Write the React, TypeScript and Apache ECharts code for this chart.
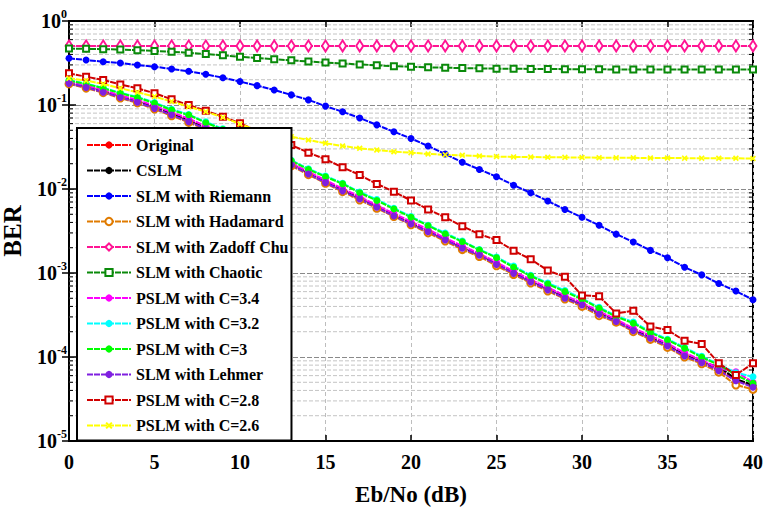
import React, { useEffect, useRef } from "react";
import * as echarts from "echarts";

const ebNo = [0,1,2,3,4,5,6,7,8,9,10,11,12,13,14,15,16,17,18,19,20,21,22,23,24,25,26,27,28,29,30,31,32,33,34,35,36,37,38,39,40];

const original = [0.185,0.166,0.146,0.127,0.111,0.094,0.079,0.066,0.054,0.044,0.0355,0.029,0.0238,0.0198,0.0156,0.0123,0.0098,0.0078,0.0062,0.0049,0.0039,0.00315,0.00252,0.002,0.00164,0.00128,0.001,0.0008,0.00064,0.00051,0.00042,0.00033,0.00027,0.00021,0.00017,0.000137,0.000106,0.000087,0.00007,0.000054,0.000045];
const cslm = [0.183,0.164,0.144,0.125,0.11,0.093,0.078,0.065,0.053,0.043,0.035,0.0285,0.0235,0.0195,0.0154,0.0121,0.0097,0.0077,0.0061,0.0048,0.0039,0.0031,0.0025,0.00198,0.00162,0.00127,0.001,0.00079,0.00064,0.00051,0.00042,0.00033,0.00027,0.00021,0.00017,0.000137,0.000106,0.000087,0.000076,0.000055,0.000046];
const riemann = [0.360,0.343,0.328,0.316,0.299,0.286,0.268,0.252,0.232,0.211,0.190,0.170,0.151,0.132,0.115,0.097,0.083,0.070,0.058,0.048,0.040,0.0325,0.0261,0.0208,0.0171,0.0140,0.0111,0.0090,0.0072,0.0057,0.0046,0.0037,0.0029,0.00234,0.00186,0.00152,0.00117,0.00095,0.00075,0.00061,0.00048];
const hadamard = [0.178,0.159,0.14,0.121,0.106,0.0895,0.0745,0.062,0.051,0.041,0.0335,0.0275,0.0226,0.0189,0.0148,0.0117,0.0093,0.0074,0.0059,0.0047,0.00375,0.003,0.0024,0.0019,0.00157,0.00122,0.00096,0.00076,0.00061,0.00049,0.0004,0.00031,0.00026,0.0002,0.000162,0.00013,0.0001,0.000083,0.000066,0.0000464,0.0000412];
const zadoffChu = [0.505,0.505,0.505,0.505,0.505,0.505,0.505,0.505,0.505,0.505,0.505,0.505,0.505,0.505,0.505,0.505,0.505,0.505,0.505,0.505,0.505,0.505,0.505,0.505,0.505,0.505,0.505,0.505,0.505,0.505,0.505,0.505,0.505,0.505,0.505,0.505,0.505,0.505,0.505,0.505,0.505];
const chaotic = [0.47,0.466,0.462,0.457,0.45,0.44,0.43,0.418,0.405,0.39,0.375,0.363,0.35,0.34,0.33,0.32,0.312,0.304,0.297,0.29,0.285,0.281,0.278,0.275,0.273,0.271,0.27,0.269,0.268,0.267,0.266,0.266,0.265,0.265,0.265,0.265,0.265,0.264,0.264,0.264,0.264];
const pslm34 = [0.188,0.17,0.15,0.13,0.115,0.098,0.082,0.069,0.056,0.046,0.037,0.03,0.0245,0.0203,0.016,0.0127,0.0101,0.0081,0.0064,0.0051,0.0041,0.0033,0.0026,0.0021,0.0017,0.00134,0.00105,0.00083,0.00067,0.00054,0.00044,0.00035,0.00028,0.00022,0.00018,0.000145,0.000112,0.000092,0.000073,0.0000668,0.00005];
const pslm32 = [0.197,0.18,0.16,0.14,0.125,0.107,0.089,0.077,0.063,0.052,0.042,0.034,0.0275,0.022,0.0174,0.0143,0.0117,0.0092,0.0075,0.0059,0.0047,0.0037,0.003,0.0024,0.0019,0.00155,0.00121,0.00094,0.00076,0.00062,0.0005,0.00039,0.00031,0.00026,0.0002,0.000163,0.00013,0.000102,0.000082,0.000065,0.0000583];
const pslm30 = [0.195,0.178,0.158,0.138,0.123,0.105,0.087,0.076,0.0616,0.051,0.041,0.033,0.027,0.0217,0.0171,0.0140,0.0115,0.0090,0.0073,0.00578,0.0046,0.00366,0.00291,0.00236,0.00188,0.00152,0.00117,0.00092,0.00074,0.0006,0.000486,0.00038,0.000302,0.000252,0.000195,0.000159,0.000127,0.0000991,0.0000803,0.0000611,0.0000486];
const lehmer = [0.181,0.162,0.142,0.123,0.108,0.0912,0.076,0.0634,0.052,0.042,0.034,0.028,0.023,0.0193,0.0151,0.0119,0.0095,0.0076,0.00605,0.00477,0.00383,0.0031,0.00247,0.00197,0.00163,0.00126,0.00099,0.00078,0.00063,0.0005,0.000416,0.000322,0.000264,0.000206,0.000167,0.000135,0.000103,0.0000857,0.0000687,0.0000522,0.0000436];
const pslm28 = [0.238,0.217,0.199,0.176,0.158,0.138,0.117,0.100,0.0855,0.0726,0.0605,0.049,0.040,0.0334,0.0271,0.0226,0.0181,0.0147,0.0115,0.0093,0.0073,0.0057,0.0046,0.0036,0.0029,0.00247,0.00184,0.00146,0.00107,0.00090,0.00054,0.00053,0.00033,0.000356,0.00023,0.00021,0.000156,0.000143,0.0000841,0.0000611,0.0000841];
const pslm26 = [0.208,0.195,0.178,0.158,0.142,0.126,0.110,0.0955,0.0832,0.0713,0.0594,0.050,0.045,0.042,0.0383,0.035,0.0325,0.0305,0.0291,0.0278,0.0271,0.0261,0.0256,0.0252,0.0247,0.0243,0.0241,0.024,0.0239,0.0238,0.0237,0.0236,0.0235,0.0235,0.0234,0.0234,0.0233,0.0233,0.0232,0.0232,0.0231];

const xTicks = [0, 5, 10, 15, 20, 25, 30, 35, 40];
const decades = [-5, -4, -3, -2, -1];
const minorMultipliers = [2, 3, 4, 5, 6, 7, 8, 9];

const FONT = "Liberation Serif";
const X_MARK = "path://M0,2L2,0L5,3L8,0L10,2L7,5L10,8L8,10L5,7L2,10L0,8L3,5Z";

export default function App() {
  const ref = useRef<HTMLDivElement>(null);
  useEffect(() => {
    if (!ref.current) return;
    const chart = echarts.init(ref.current, null, { renderer: "svg" });

    const mk = (name: string, vals: number[], color: string, symbol: string, size: any, lineColor?: string) => ({
      name,
      type: "line",
      data: ebNo.map((x, i) => [x, vals[i]]),
      symbol,
      symbolSize: size,
      showSymbol: true,
      itemStyle: { color, borderWidth: 2 },
      lineStyle: { color: lineColor || color, width: 2, type: [6, 1] },
      z: 3,
    });

    const minorVals: number[] = [];
    decades.forEach((d) => minorMultipliers.forEach((m) => minorVals.push(m * Math.pow(10, d))));

    const series: any[] = [
      {
        type: "custom",
        coordinateSystem: "cartesian2d",
        silent: true,
        z: 1,
        data: minorVals.map((v) => [0, v]),
        renderItem: (params: any, api: any) => {
          const v = api.value(1);
          const l = api.coord([0, v]);
          const r = api.coord([40, v]);
          return {
            type: "group",
            children: [
              { type: "line", shape: { x1: l[0], y1: l[1], x2: r[0], y2: r[1] }, style: { stroke: "#c4c4c4", lineWidth: 1, lineDash: [4, 2] } },
              { type: "line", shape: { x1: l[0], y1: l[1], x2: l[0] + 4, y2: l[1] }, style: { stroke: "#000", lineWidth: 1 } },
              { type: "line", shape: { x1: r[0] - 4, y1: r[1], x2: r[0], y2: r[1] }, style: { stroke: "#000", lineWidth: 1 } },
            ],
          };
        },
      },
      mk("Original", original, "#ff0000", "circle", 7),
      mk("CSLM", cslm, "#000000", "circle", 7),
      mk("SLM with Riemann", riemann, "#0000ff", "circle", 7),
      mk("SLM with Hadamard", hadamard, "#e07b00", "emptyCircle", 7),
      mk("SLM with Zadoff Chu", zadoffChu, "#ff1493", "emptyDiamond", [7, 11]),
      mk("SLM with Chaotic", chaotic, "#0a8a0a", "emptyRect", 6),
      mk("PSLM with C=3.4", pslm34, "#ff00ff", "circle", 7),
      mk("PSLM with C=3.2", pslm32, "#00ffff", "circle", 7),
      mk("PSLM with C=3", pslm30, "#00ff00", "circle", 7),
      mk("SLM with Lehmer", lehmer, "#7f1fe0", "circle", 7),
      mk("PSLM with C=2.8", pslm28, "#d00000", "emptyRect", 6),
      mk("PSLM with C=2.6", pslm26, "#ffff00", X_MARK, 6),
    ];

    const legendNames = series.slice(1).map((s) => s.name);

    chart.setOption({
      animation: false,
      backgroundColor: "#fff",
      textStyle: { fontFamily: FONT },
      grid: { left: 69, right: 10, top: 21, bottom: 71, containLabel: false, outerBoundsMode: "none", show: true, borderColor: "#000", borderWidth: 2, backgroundColor: "transparent" },
      legend: {
        data: legendNames,
        orient: "vertical",
        left: 77,
        top: 128,
        padding: [8, 3, 6, 9],
        itemWidth: 44,
        itemHeight: 9,
        itemGap: 7.5,
        backgroundColor: "#fff",
        borderColor: "#000",
        borderWidth: 2,
        textStyle: { fontFamily: FONT, fontWeight: "bold", fontSize: 16, color: "#000", lineHeight: 18 },
        z: 10,
      },
      xAxis: [
        {
          type: "value",
          min: 0,
          max: 40,
          interval: 5,
          name: "Eb/No (dB)",
          nameLocation: "middle",
          nameGap: 42,
          nameTextStyle: { fontFamily: FONT, fontWeight: "bold", fontSize: 23, color: "#000" },
          axisLine: { show: true, lineStyle: { color: "#000", width: 2 } },
          axisTick: { show: true, inside: true, length: 6, lineStyle: { color: "#000", width: 1.5 } },
          axisLabel: { margin: 11, fontFamily: FONT, fontWeight: "bold", fontSize: 20, color: "#000", formatter: (v: number) => (xTicks.includes(v) ? String(v) : "") },
          splitLine: { show: true, lineStyle: { color: "#bdbdbd", type: [4, 3], width: 1 } },
        },
        {
          type: "value",
          position: "top",
          min: 0,
          max: 40,
          interval: 5,
          axisLine: { show: true, lineStyle: { color: "#000", width: 2 } },
          axisTick: { show: true, inside: true, length: 6, lineStyle: { color: "#000", width: 1.5 } },
          axisLabel: { show: false },
          splitLine: { show: false },
        },
      ],
      yAxis: [
        {
          type: "log",
          logBase: 10,
          min: 1e-5,
          max: 1,
          name: "BER",
          nameLocation: "middle",
          nameGap: 44,
          nameTextStyle: { fontFamily: FONT, fontWeight: "bold", fontSize: 25, color: "#000" },
          axisLine: { show: true, lineStyle: { color: "#000", width: 2 } },
          axisTick: { show: true, inside: true, length: 7, lineStyle: { color: "#000", width: 1.5 } },
          axisLabel: {
            margin: 2,
            formatter: (v: number) => `{b|10}{s|${Math.round(Math.log10(v))}}`,
            rich: {
              b: { fontFamily: FONT, fontWeight: "bold", fontSize: 20, color: "#000" },
              s: { fontFamily: FONT, fontWeight: "bold", fontSize: 12, color: "#000", padding: [0, 0, 14, 0] },
            },
          },
          splitLine: { show: true, lineStyle: { color: "#8a8a8a", type: [5, 2], width: 1 } },
        },
        {
          type: "log",
          logBase: 10,
          min: 1e-5,
          max: 1,
          position: "right",
          axisLine: { show: true, lineStyle: { color: "#000", width: 2 } },
          axisTick: { show: true, inside: true, length: 7, lineStyle: { color: "#000", width: 1.5 } },
          axisLabel: { show: false },
          splitLine: { show: false },
        },
      ],
      series,
    });
    return () => chart.dispose();
  }, []);
  return <div ref={ref} style={{ width: 763, height: 512, position: "absolute", left: 0, top: 0 }} />;
}
